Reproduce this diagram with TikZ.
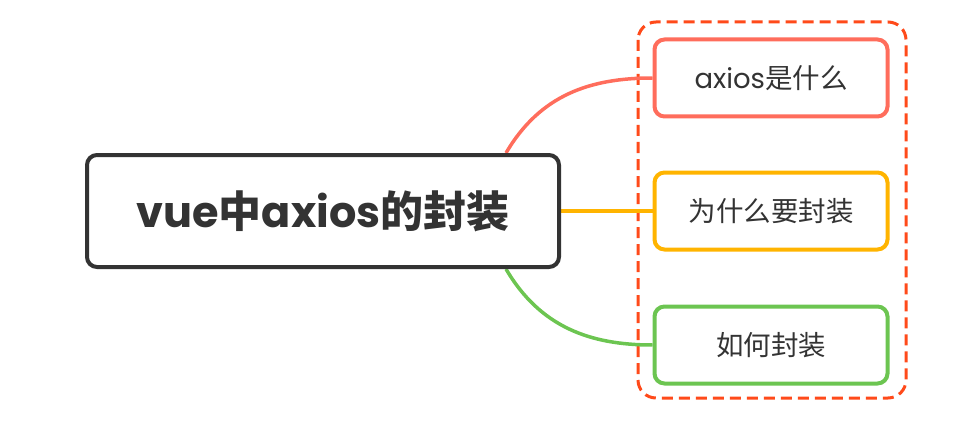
\documentclass[tikz,border=0pt]{standalone}
\usepackage{fontspec}
\setmainfont{Poppins}
\newfontfamily\cjk{Noto Sans CJK SC}
\usepackage{tikz}
\usetikzlibrary{positioning,calc,backgrounds}
\definecolor{rootgray}{HTML}{333333}
\definecolor{topred}{HTML}{FF6D5C}
\definecolor{midyellow}{HTML}{FFB400}
\definecolor{lowgreen}{HTML}{6CC551}
\definecolor{groupred}{HTML}{FF4A1A}
\tikzset{
  rootbox/.style={draw=rootgray,line width=4pt,rounded corners=10pt,fill=white,
    minimum width=472pt,minimum height=112pt,text=rootgray,
    font=\fontsize{43}{50}\selectfont\bfseries},
  subbox/.style={line width=4pt,rounded corners=10pt,fill=white,
    minimum width=233pt,minimum height=77pt,text=rootgray,
    font=\fontsize{27.5}{32}\selectfont},
  link/.style={line width=3.5pt}
}

\begin{document}
\begin{tikzpicture}[x=1pt,y=-1pt]
\useasboundingbox (0,0) rectangle (958,433);
\node[rootbox] (R) at (323,211) {vue{\cjk\bfseries 中}axios{\cjk\bfseries 的封装}};
\node[subbox,draw=topred] (A) at (771,78) {axios{\cjk 是什么}};
\node[subbox,draw=midyellow] (B) at (771,211) {\cjk 为什么要封装};
\node[subbox,draw=lowgreen] (C) at (771,345) {\cjk 如何封装};
\coordinate (Rt) at ($(R.north east)+(-55,0)$);
\coordinate (Rb) at ($(R.south east)+(-55,0)$);
\begin{scope}[on background layer]
\draw[groupred,line width=3pt,dash pattern=on 11pt off 6pt,rounded corners=18pt]
  (638,22) rectangle (906,398);
\draw[link,topred] (Rt) .. controls (540,95) and (590,78) .. (A.west);
\draw[link,midyellow] (R.east) -- (B.west);
\draw[link,lowgreen] (Rb) .. controls (540,327) and (590,345) .. (C.west);
\end{scope}
\end{tikzpicture}
\end{document}
